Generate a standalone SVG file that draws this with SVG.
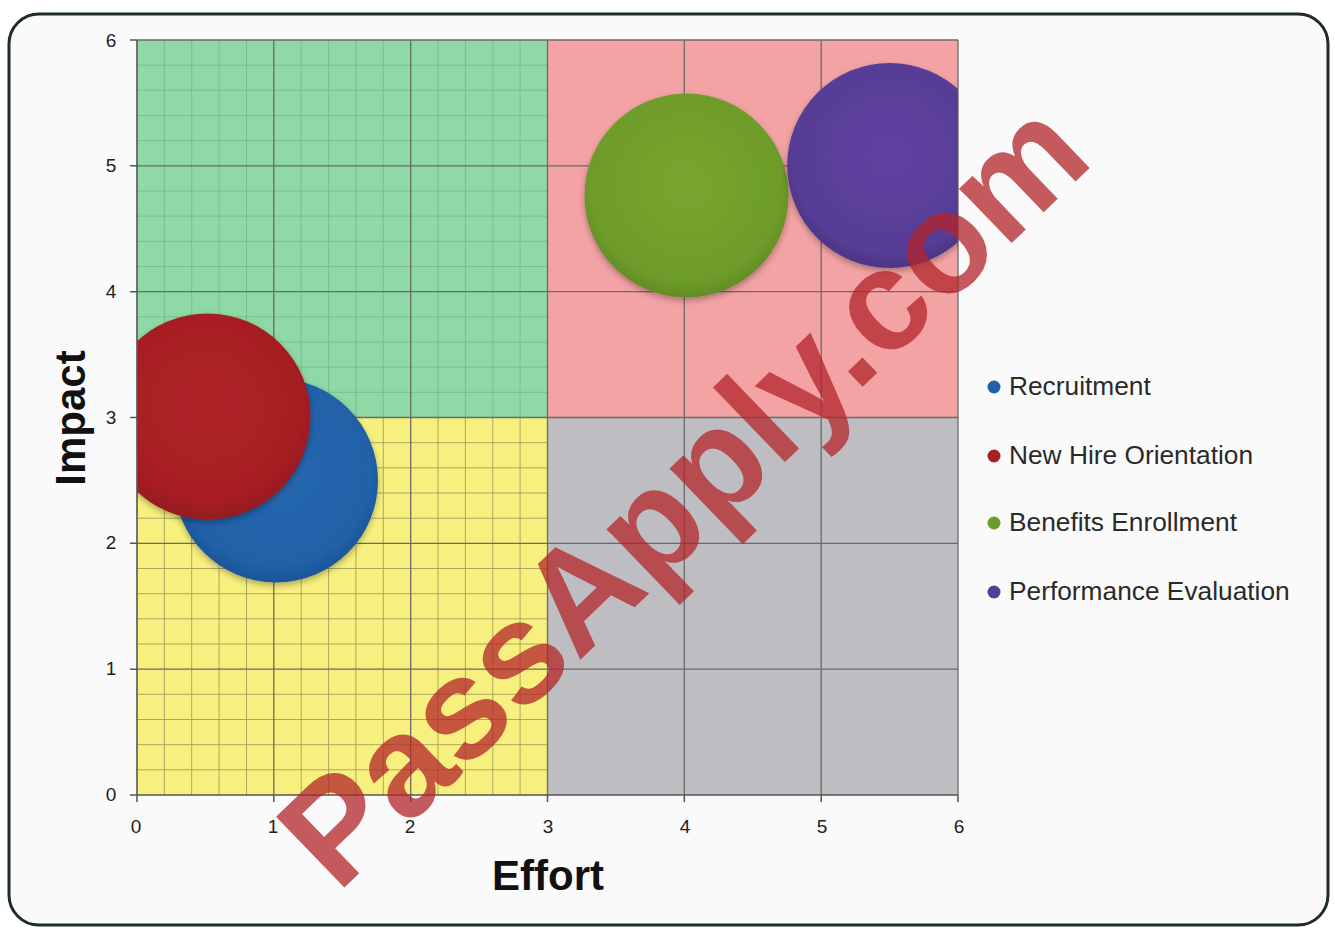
<svg xmlns="http://www.w3.org/2000/svg" width="1335" height="929" viewBox="0 0 1335 929">
<style>
.tick{font-family:"Liberation Sans",Arial,sans-serif;font-size:19px;fill:#222}
.axis{font-family:"Liberation Sans",Arial,sans-serif;font-weight:bold;font-size:42px;fill:#111}
.leg{font-family:"Liberation Sans",Arial,sans-serif;font-size:26.3px;fill:#2a2a2a}
.minorG{stroke:#74b08a;stroke-width:1;fill:none;opacity:.7}
.minorY{stroke:#9c9a5e;stroke-width:1;fill:none;opacity:.85}
.major{stroke:#6a6a6a;stroke-width:1.3;fill:none}
.bubble{filter:url(#shadow)}
</style>
<defs>
<clipPath id="plot"><rect x="137" y="40" width="821" height="755"/></clipPath>
<filter id="shadow" x="-20%" y="-20%" width="140%" height="140%">
<feDropShadow dx="0" dy="3" stdDeviation="3" flood-color="#000" flood-opacity="0.3"/>
</filter>
<radialGradient id="gBlue" cx="50%" cy="45%" r="55%"><stop offset="0" stop-color="#2768b0"/><stop offset="0.85" stop-color="#2061a8"/><stop offset="1" stop-color="#1a5596"/></radialGradient>
<radialGradient id="gRed" cx="50%" cy="45%" r="55%"><stop offset="0" stop-color="#b02226"/><stop offset="0.85" stop-color="#a51f23"/><stop offset="1" stop-color="#931b1f"/></radialGradient>
<radialGradient id="gGreen" cx="50%" cy="45%" r="55%"><stop offset="0" stop-color="#78a62e"/><stop offset="0.85" stop-color="#6e9c2a"/><stop offset="1" stop-color="#628c25"/></radialGradient>
<radialGradient id="gPurple" cx="50%" cy="45%" r="55%"><stop offset="0" stop-color="#5f43a0"/><stop offset="0.85" stop-color="#573d96"/><stop offset="1" stop-color="#4c3586"/></radialGradient>
</defs>

<rect id="frame" x="9" y="14" width="1319" height="911" rx="30" fill="#fafafa" stroke="#1f2c2c" stroke-width="3"/>

<g id="quadrants">
<rect x="137" y="40" width="410.5" height="377.5" fill="#8fd9a6"/>
<rect x="547.5" y="40" width="410.5" height="377.5" fill="#f4a3a5"/>
<rect x="137" y="417.5" width="410.5" height="377.5" fill="#f8f07e"/>
<rect x="547.5" y="417.5" width="410.5" height="377.5" fill="#bebec2"/>
</g>

<g id="grid">
<path class="minorG" d="M164.4 40V417.5M191.7 40V417.5M219.1 40V417.5M246.5 40V417.5M301.2 40V417.5M328.6 40V417.5M355.9 40V417.5M383.3 40V417.5M438 40V417.5M465.4 40V417.5M492.8 40V417.5M520.1 40V417.5M137 65.2H547.5M137 90.3H547.5M137 115.5H547.5M137 140.7H547.5M137 191H547.5M137 216.2H547.5M137 241.3H547.5M137 266.5H547.5M137 316.8H547.5M137 342H547.5M137 367.2H547.5M137 392.3H547.5"/>
<path class="minorY" d="M164.4 417.5V795M191.7 417.5V795M219.1 417.5V795M246.5 417.5V795M301.2 417.5V795M328.6 417.5V795M355.9 417.5V795M383.3 417.5V795M438 417.5V795M465.4 417.5V795M492.8 417.5V795M520.1 417.5V795M137 442.7H547.5M137 467.8H547.5M137 493H547.5M137 518.2H547.5M137 568.5H547.5M137 593.7H547.5M137 618.8H547.5M137 644H547.5M137 694.3H547.5M137 719.5H547.5M137 744.7H547.5M137 769.8H547.5"/>
<path class="major" d="M273.8 40V795M410.7 40V795M547.5 40V795M684.3 40V795M821.2 40V795M958 40V795M137 40H958M137 165.8H958M137 291.7H958M137 417.5H958M137 543.3H958M137 669.2H958"/>
</g>

<g id="bubbles" clip-path="url(#plot)">
<g id="recruitment"><circle class="bubble" cx="276" cy="480.5" r="102" fill="url(#gBlue)"/></g>
<g id="new-hire-orientation"><circle class="bubble" cx="207.5" cy="416.5" r="103" fill="url(#gRed)"/></g>
<g id="benefits-enrollment"><circle class="bubble" cx="686.5" cy="195.5" r="102" fill="url(#gGreen)"/></g>
<g id="performance-evaluation"><circle class="bubble" cx="889.7" cy="165.5" r="102.5" fill="url(#gPurple)"/></g>
</g>

<g id="axes">
<path d="M137 40V795H958" stroke="#555" stroke-width="1.6" fill="none"/>
<path d="M130 40H137M130 165.8H137M130 291.7H137M130 417.5H137M130 543.3H137M130 669.2H137M130 795H137M137 795V802M273.8 795V802M410.7 795V802M547.5 795V802M684.3 795V802M821.2 795V802M958 795V802" stroke="#555" stroke-width="1.5" fill="none"/>
<g class="tick" text-anchor="middle">
<text x="111" y="47">6</text>
<text x="111" y="172">5</text>
<text x="111" y="298">4</text>
<text x="111" y="424">3</text>
<text x="111" y="549">2</text>
<text x="111" y="675">1</text>
<text x="111" y="801">0</text>
<text x="136" y="833">0</text>
<text x="273" y="833">1</text>
<text x="410" y="833">2</text>
<text x="548" y="833">3</text>
<text x="685" y="833">4</text>
<text x="822" y="833">5</text>
<text x="959" y="833">6</text>
</g>
<text class="axis" text-anchor="middle" transform="translate(85 418) rotate(-90)">Impact</text>
<text class="axis" x="548" y="890" text-anchor="middle">Effort</text>
</g>

<g id="legend">
<g id="leg-recruitment"><circle cx="994" cy="387" r="6.5" fill="#2061a8"/><text class="leg" x="1009" y="395">Recruitment</text></g>
<g id="leg-new-hire"><circle cx="994" cy="456" r="6.5" fill="#a51f23"/><text class="leg" x="1009" y="464">New Hire Orientation</text></g>
<g id="leg-benefits"><circle cx="994" cy="523" r="6.5" fill="#6e9c2a"/><text class="leg" x="1009" y="531">Benefits Enrollment</text></g>
<g id="leg-performance"><circle cx="994" cy="592" r="6.5" fill="#573d96"/><text class="leg" x="1009" y="600">Performance Evaluation</text></g>
</g>

<g id="watermark">
<text transform="translate(682 492) rotate(-44)" y="50" text-anchor="middle" font-family="'Liberation Sans',Arial,sans-serif" font-weight="bold" font-size="143" fill="#b3242a" fill-opacity="0.75">PassApply.com</text>
</g>
</svg>
